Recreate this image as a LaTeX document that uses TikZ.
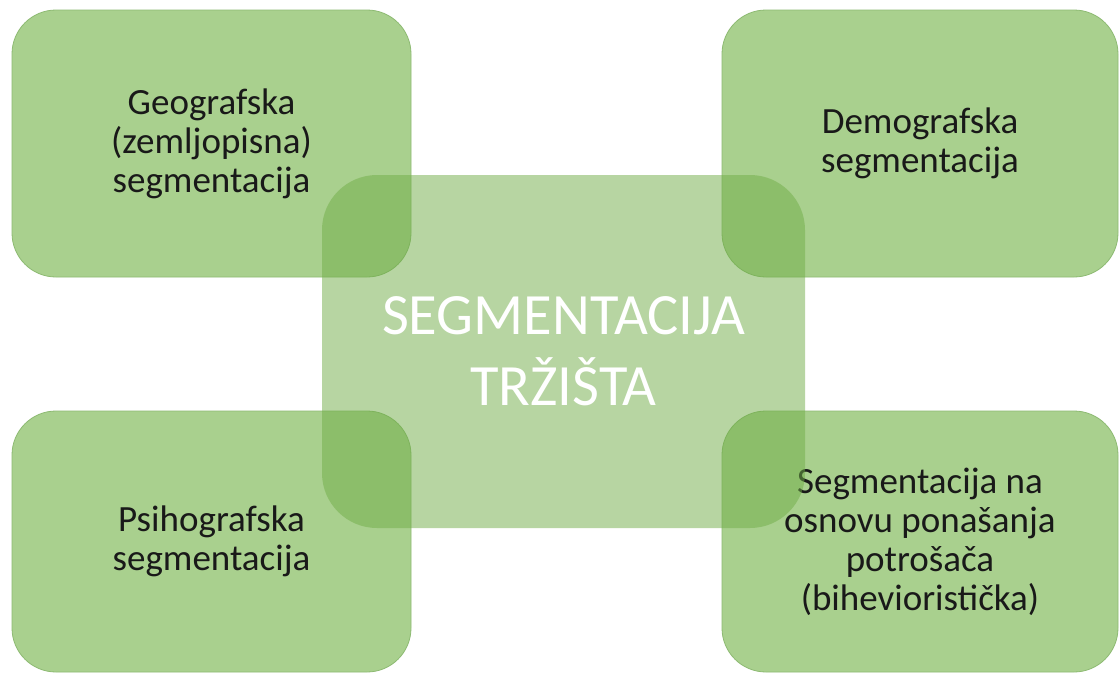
\documentclass[tikz,border=0pt]{standalone}
\usepackage{fontspec}
\setmainfont{Carlito}
\definecolor{boxfill}{HTML}{A9D08E}
\definecolor{boxline}{HTML}{8DBA72}
\definecolor{midfill}{HTML}{70AD47}
\begin{document}
\begin{tikzpicture}[x=1pt,y=-1pt,
  cornerbox/.style={rectangle, rounded corners=44pt, fill=boxfill, draw=boxline,
    line width=0.8pt, inner sep=0pt, outer sep=0pt, align=center, text=black!90,
    font=\fontsize{37}{39}\selectfont},
  midbox/.style={rectangle, rounded corners=55pt, fill=midfill, fill opacity=0.5,
    text opacity=1, draw=none, inner sep=0pt, outer sep=0pt, align=center, text=white,
    font=\fontsize{58.5}{71}\selectfont}]
\useasboundingbox (0,0) rectangle (1120,675);
\fill[white] (0,0) rectangle (1120,675);
\node[cornerbox, minimum width=399pt, minimum height=267pt] (geo) at (211.5,143.5)
  {Geografska\\(zemljopisna)\\segmentacija};
\node[cornerbox, minimum width=396pt, minimum height=267pt] (demo) at (920,143.5)
  {Demografska\\segmentacija};
\node[cornerbox, minimum width=399pt, minimum height=261pt] (psi) at (211.5,541.5)
  {Psihografska\\segmentacija};
\node[cornerbox, minimum width=396pt, minimum height=261pt] (beh) at (920,541.5)
  {Segmentacija na\\osnovu ponašanja\\potrošača\\(bihevioristička)};
\node[midbox, minimum width=483pt, minimum height=353pt] (mid) at (563.5,351.5)
  {SEGMENTACIJA\\TRŽIŠTA};
\end{tikzpicture}
\end{document}
